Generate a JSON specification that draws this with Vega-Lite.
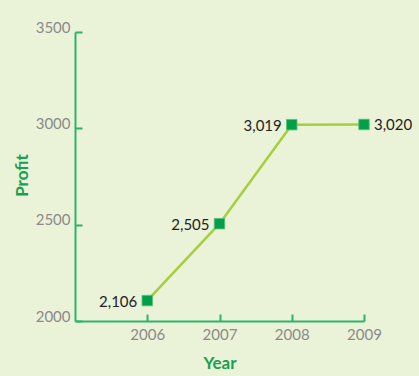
{
  "$schema": "https://vega.github.io/schema/vega-lite/v6.json",
  "width": 289,
  "height": 289,
  "autosize": {"type": "none"},
  "padding": {"left": 75, "top": 32, "right": 55, "bottom": 55},
  "background": "#eaf2d8",
  "config": {
    "view": {"stroke": null},
    "font": "Lato",
    "axis": {
      "grid": false,
      "domainColor": "#2fb36a",
      "domainWidth": 2,
      "tickColor": "#2fb36a",
      "tickWidth": 2,
      "tickSize": -7,
      "labelColor": "#8a8a8a",
      "labelFont": "Lato",
      "labelFontSize": 15,
      "titleColor": "#17a150",
      "titleFont": "Lato",
      "titleFontSize": 17,
      "titleFontWeight": "bold"
    }
  },
  "data": {
    "values": [
      {"year": 2006, "profit": 2106, "label": "2,106", "side": "left"},
      {"year": 2007, "profit": 2505, "label": "2,505", "side": "left"},
      {"year": 2008, "profit": 3019, "label": "3,019", "side": "left"},
      {"year": 2009, "profit": 3020, "label": "3,020", "side": "right"}
    ]
  },
  "encoding": {
    "x": {
      "field": "year", "type": "quantitative",
      "scale": {"domain": [2005, 2009], "nice": false, "zero": false},
      "axis": {"title": "Year", "values": [2006, 2007, 2008, 2009], "format": "d", "labelPadding": 13, "titleY": 42, "titleBaseline": "middle", "labelFlush": false}
    },
    "y": {
      "field": "profit", "type": "quantitative",
      "scale": {"domain": [2000, 3500], "nice": false, "zero": false},
      "axis": {"title": "Profit", "values": [2000, 2500, 3000, 3500], "format": "d", "labelPadding": 12, "labelBaseline": "alphabetic", "titleX": -53, "titleY": 143, "titleBaseline": "middle", "labelFlush": false}
    }
  },
  "layer": [
    {"mark": {"type": "line", "color": "#a5cf3d", "strokeWidth": 2.5}},
    {"mark": {"type": "square", "color": "#00a04a", "opacity": 1, "size": 110, "stroke": "#5cc07a", "strokeWidth": 0.8}},
    {
      "transform": [{"filter": "datum.side == 'left'"}],
      "mark": {"type": "text", "align": "right", "baseline": "middle", "dx": -10, "dy": 1, "fontSize": 15, "color": "#222222"},
      "encoding": {"text": {"field": "label"}}
    },
    {
      "transform": [{"filter": "datum.side == 'right'"}],
      "mark": {"type": "text", "align": "left", "baseline": "middle", "dx": 10, "dy": 1, "fontSize": 15, "color": "#222222"},
      "encoding": {"text": {"field": "label"}}
    }
  ]
}
